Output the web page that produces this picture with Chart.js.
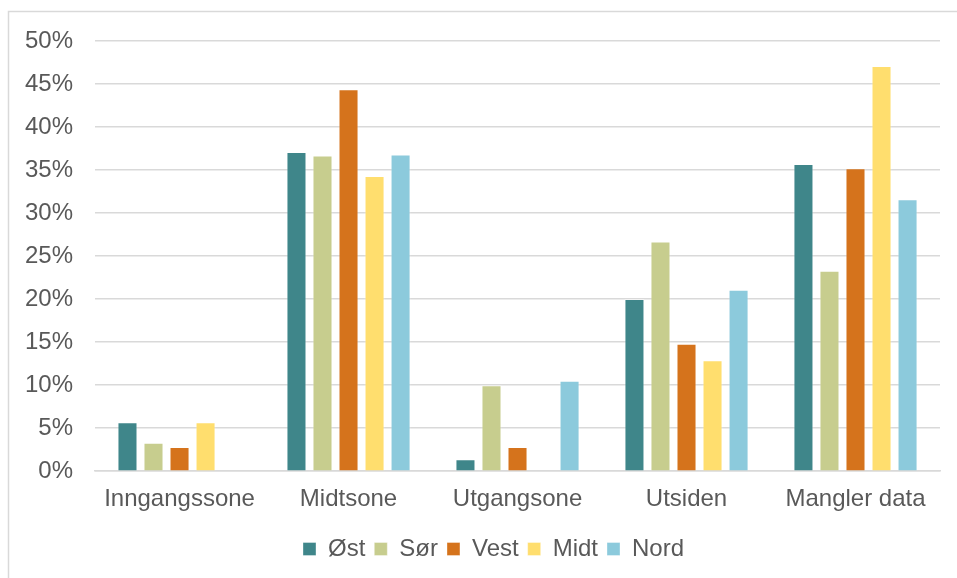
<!DOCTYPE html>
<html lang="no">
<head>
  <meta charset="UTF-8">
  <title>Andel per sone</title>
  <script src="https://cdn.jsdelivr.net/npm/chart.js"></script>
  <style>
    html, body { margin: 0; padding: 0; background: #ffffff; }
    #wrap { width: 957px; height: 578px; position: relative; }
  </style>
</head>
<body>
  <div id="wrap"><canvas id="soneChart" width="957" height="578"></canvas></div>

  <script>
    // Kategorier og verdier (prosent)
    const kategorier = ['Inngangssone', 'Midtsone', 'Utgangsone', 'Utsiden', 'Mangler data'];
    const ost  = [5.7, 37.1, 1.4, 20.0, 35.7];
    const sor  = [3.3, 36.7, 10.0, 26.7, 23.3];
    const vest = [2.8, 44.4, 2.8, 14.8, 35.2];
    const midt = [5.7, 34.3, 0, 12.9, 47.1];
    const nord = [0, 36.8, 10.5, 21.1, 31.6];
    const serieNavn = ['Øst', 'Sør', 'Vest', 'Midt', 'Nord'];
    const farger = ['#3f868a', '#c7cd8e', '#d5731c', '#ffde6e', '#8ccadc'];

    const serier = [ost, sor, vest, midt, nord];
    const skrift = { family: "'Liberation Sans', Arial, sans-serif", size: 24 };

    // Tynn grå ramme rundt diagrammet
    const ramme = {
      id: 'ramme',
      beforeDraw(chart) {
        const c = chart.ctx;
        c.save();
        c.strokeStyle = '#d9d9d9';
        c.lineWidth = 1.5;
        c.strokeRect(8.5, 11.5, 1000, 1000);
        c.restore();
      }
    };

    // Forklaringen sentreres under plottet, ikke under hele lerretet
    const flyttForklaring = {
      id: 'flyttForklaring',
      afterLayout(chart) {
        chart.legend.left += 22;
        chart.legend.right += 22;
      }
    };

    const ctx = document.getElementById('soneChart').getContext('2d');
    new Chart(ctx, {
      type: 'bar',
      data: {
        labels: kategorier,
        datasets: serier.map((d, i) => ({
          label: serieNavn[i],
          data: d,
          backgroundColor: farger[i],
          borderColor: 'rgba(255,255,255,0.35)',
          borderWidth: 1,
          barPercentage: 0.77,
          categoryPercentage: 0.77
        }))
      },
      options: {
        responsive: false,
        animation: false,
        layout: { padding: { left: 3, right: 17, top: 41, bottom: 7 } },
        plugins: {
          tooltip: { enabled: false },
          legend: {
            position: 'bottom',
            labels: {
              color: '#595959',
              font: skrift,
              boxWidth: 13,
              boxHeight: 13,
              padding: 9
            }
          }
        },
        scales: {
          x: {
            grid: { display: false },
            border: { color: '#d9d9d9', width: 1.5 },
            ticks: { color: '#595959', font: skrift, padding: 6 },
            // ikke la de lange etikettene skyve plottet innover,
            // og litt ekstra luft ned mot forklaringen
            afterFit: s => { s.paddingLeft = 0; s.paddingRight = 0; s.height += 8; }
          },
          y: {
            min: 0,
            max: 50,
            border: { display: false },
            grid: { color: '#d9d9d9', lineWidth: 1.5, drawTicks: false },
            ticks: {
              stepSize: 5,
              color: '#595959',
              padding: 22,
              font: skrift,
              callback: v => v + '%'
            }
          }
        }
      },
      plugins: [ramme, flyttForklaring]
    });
  </script>
</body>
</html>
